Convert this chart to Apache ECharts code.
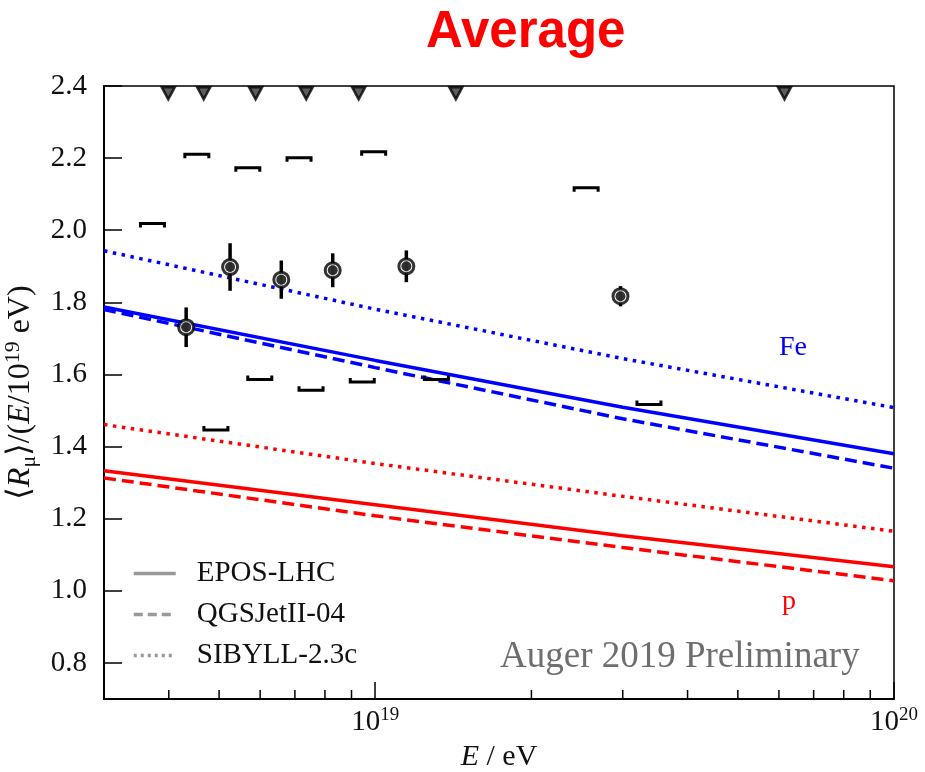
<!DOCTYPE html>
<html>
<head>
<meta charset="utf-8">
<title>Average</title>
<script src="https://cdn.jsdelivr.net/npm/echarts@6/dist/echarts.min.js"></script>
<style>
  html, body { margin: 0; padding: 0; background: #fff; }
  #chart { width: 925px; height: 772px; }
</style>
</head>
<body>
<div id="chart"></div>
<script>
// Energies (eV) at which the model predictions are sampled
const modelEnergies = [3e18, 1e19, 3e19, 1e20];

// Model predictions of <R_mu>/(E/1e19 eV)
const feEpos = [1.787, 1.639, 1.509, 1.380];
const feQgs  = [1.780, 1.619, 1.477, 1.340];
const feSib  = [1.943, 1.781, 1.644, 1.508];
const pEpos  = [1.333, 1.239, 1.153, 1.067];
const pQgs   = [1.313, 1.208, 1.120, 1.028];
const pSib   = [1.461, 1.353, 1.262, 1.165];

// Measured averages with statistical errors
const dataEnergies = [4.32e18, 5.25e18, 6.59e18, 8.28e18, 1.148e19, 2.97e19];
const dataValues   = [1.731, 1.898, 1.863, 1.889, 1.900, 1.817];
const dataErrors   = [0.055, 0.066, 0.053, 0.047, 0.044, 0.028];

// Systematic uncertainty brackets
const sysUpperEnergies = [3.72e18, 4.53e18, 5.68e18, 7.13e18, 9.93e18, 2.55e19];
const sysUpperValues   = [2.019, 2.211, 2.173, 2.201, 2.218, 2.118];
const sysLowerEnergies = [4.93e18, 5.99e18, 7.52e18, 9.44e18, 1.312e19, 3.37e19];
const sysLowerValues   = [1.446, 1.586, 1.556, 1.579, 1.586, 1.517];

// Bin markers along the top edge
const binMarkerEnergies = [3.99e18, 4.67e18, 5.88e18, 7.36e18, 9.29e18, 1.43e19, 6.15e19];
const binMarkerValue = 2.38;

// Axis ranges and ticks
const xMin = 3e18, xMax = 1e20;
const yMin = 0.7, yMax = 2.4;
const yTickValues = [0.8, 1.0, 1.2, 1.4, 1.6, 1.8, 2.0, 2.2, 2.4];
const xMinorTicks = [4e18, 5e18, 6e18, 7e18, 8e18, 9e18, 2e19, 3e19, 4e19, 5e19, 6e19, 7e19, 8e19, 9e19];

const legendNames = ['EPOS-LHC', 'QGSJetII-04', 'SIBYLL-2.3c'];

const SERIF = '"Liberation Serif", "DejaVu Serif", serif';
const BLUE = '#0000ff';
const RED = '#ff0000';
const DASH = [12, 6];
const DOT = [3.5, 5.5];
const LW = 3.5;

const zip = (xs, ys) => xs.map((x, i) => [x, ys[i]]);

function modelLine(name, values, color, type) {
  return {
    type: 'line',
    name: name,
    data: zip(modelEnergies, values),
    showSymbol: false,
    symbol: 'none',
    silent: true,
    lineStyle: { color: color, width: LW, type: type, cap: 'butt' },
    z: 2
  };
}

function bracketSeries(energies, values, dir) {
  return {
    type: 'custom',
    data: zip(energies, values),
    renderItem: function (params, api) {
      const p = api.coord([api.value(0), api.value(1)]);
      const hw = 12, h = 4 * dir;
      return {
        type: 'polyline',
        shape: { points: [[p[0] - hw, p[1] + h], [p[0] - hw, p[1]], [p[0] + hw, p[1]], [p[0] + hw, p[1] + h]] },
        style: { stroke: '#000', lineWidth: 3, fill: null }
      };
    },
    z: 5
  };
}

const chart = echarts.init(document.getElementById('chart'), null, { renderer: 'canvas' });

const option = {
  backgroundColor: '#ffffff',
  animation: false,
  title: {
    text: 'Average',
    left: 421,
    top: 2,
    textStyle: { fontFamily: '"Liberation Sans", Arial, sans-serif', fontWeight: 'bold', fontSize: 51, color: RED }
  },
  grid: {
    left: 104, right: 31, top: 86, bottom: 73,
    outerBoundsMode: 'none',
    containLabel: false,
    show: true, borderColor: '#000', borderWidth: 1.5, backgroundColor: 'transparent'
  },
  legend: {
    orient: 'vertical',
    left: 127,
    top: 554,
    itemWidth: 42,
    itemHeight: 16,
    itemGap: 12,
    data: legendNames,
    selectedMode: false,
    itemStyle: { opacity: 0 },
    lineStyle: { width: 3.5 },
    textStyle: { fontFamily: SERIF, fontSize: 29, color: '#111', padding: [0, 0, 0, 16] }
  },
  xAxis: {
    type: 'log',
    logBase: 10,
    min: xMin,
    max: xMax,
    name: '{i|E} / eV',
    nameLocation: 'middle',
    nameGap: 31,
    nameTextStyle: {
      fontFamily: SERIF, fontSize: 30, color: '#111', verticalAlign: 'top',
      rich: { i: { fontFamily: SERIF, fontStyle: 'italic', fontSize: 30, color: '#111' } }
    },
    axisLine: { lineStyle: { color: '#000', width: 2 } },
    axisTick: { inside: true, length: 17, lineStyle: { color: '#000', width: 1.5 } },
    axisLabel: {
      margin: 7,
      fontFamily: SERIF, fontSize: 29, color: '#111',
      formatter: function (v) {
        const l = Math.log10(v);
        if (Math.abs(l - Math.round(l)) < 1e-6) return '10{sup|' + Math.round(l) + '}';
        return '';
      },
      rich: {
        sup: { fontFamily: SERIF, fontSize: 19, color: '#111', verticalAlign: 'top', padding: [0, 0, 14, 0] }
      }
    },
    splitLine: { show: false },
    minorTick: { show: false }
  },
  yAxis: {
    type: 'value',
    min: yMin,
    max: yMax,
    name: '⟨{i|R}{sub|μ}⟩/({i|E}/10{sup|19} eV)',
    nameLocation: 'middle',
    nameRotate: 90,
    nameGap: 47,
    nameTextStyle: {
      fontFamily: SERIF, fontSize: 32, color: '#111',
      rich: {
        i: { fontFamily: SERIF, fontStyle: 'italic', fontSize: 32, color: '#111' },
        sub: { fontFamily: SERIF, fontSize: 22, color: '#111', padding: [16, 0, 0, 0] },
        sup: { fontFamily: SERIF, fontSize: 22, color: '#111', padding: [0, 0, 16, 0] }
      }
    },
    axisLine: { show: true, lineStyle: { color: '#000', width: 2 } },
    axisTick: { inside: true, length: 18, customValues: yTickValues, lineStyle: { color: '#000', width: 1.5 } },
    axisLabel: {
      margin: 17,
      customValues: yTickValues,
      fontFamily: SERIF, fontSize: 29, color: '#111',
      formatter: function (v) { return Number(v).toFixed(1); }
    },
    splitLine: { show: false }
  },
  graphic: [
    { type: 'text', left: 779, top: 334, style: { text: 'Fe', font: '28px ' + SERIF, fill: BLUE } },
    { type: 'text', left: 782, top: 588, style: { text: 'p', font: '28px ' + SERIF, fill: RED } },
    { type: 'text', left: 500, top: 639, style: { text: 'Auger 2019 Preliminary', font: '37px ' + SERIF, fill: '#6e6e6e' } }
  ],
  series: [
    // legend entries (style only)
    { type: 'line', name: legendNames[0], data: [], symbol: 'none', showSymbol: false, lineStyle: { color: '#999', width: 3.5, type: 'solid' }, itemStyle: { color: '#999' } },
    { type: 'line', name: legendNames[1], data: [], symbol: 'none', showSymbol: false, lineStyle: { color: '#999', width: 3.5, type: [9, 5] }, itemStyle: { color: '#999' } },
    { type: 'line', name: legendNames[2], data: [], symbol: 'none', showSymbol: false, lineStyle: { color: '#999', width: 3, type: [3, 4] }, itemStyle: { color: '#999' } },

    // model predictions
    modelLine('Fe EPOS-LHC', feEpos, BLUE, 'solid'),
    modelLine('Fe QGSJetII-04', feQgs, BLUE, DASH),
    modelLine('Fe SIBYLL-2.3c', feSib, BLUE, DOT),
    modelLine('p EPOS-LHC', pEpos, RED, 'solid'),
    modelLine('p QGSJetII-04', pQgs, RED, DASH),
    modelLine('p SIBYLL-2.3c', pSib, RED, DOT),

    // minor ticks on the energy axis
    {
      type: 'custom',
      data: xMinorTicks.map(v => [v, yMin]),
      silent: true,
      renderItem: function (params, api) {
        const p = api.coord([api.value(0), api.value(1)]);
        return { type: 'line', shape: { x1: p[0], y1: p[1], x2: p[0], y2: p[1] - 9 }, style: { stroke: '#000', lineWidth: 1.5 } };
      },
      z: 3
    },

    // systematic brackets
    bracketSeries(sysUpperEnergies, sysUpperValues, 1),
    bracketSeries(sysLowerEnergies, sysLowerValues, -1),

    // statistical error bars
    {
      type: 'custom',
      data: dataEnergies.map((e, i) => [e, dataValues[i], dataErrors[i]]),
      renderItem: function (params, api) {
        const x = api.value(0), y = api.value(1), err = api.value(2);
        const top = api.coord([x, y + err]);
        const bot = api.coord([x, y - err]);
        return { type: 'line', shape: { x1: top[0], y1: top[1], x2: bot[0], y2: bot[1] }, style: { stroke: '#000', lineWidth: 3.5 } };
      },
      z: 6
    },
    // data points: ring and filled centre
    {
      type: 'scatter',
      data: zip(dataEnergies, dataValues),
      symbol: 'circle',
      symbolSize: 15,
      itemStyle: { color: '#ffffff', borderColor: '#000', borderWidth: 3 },
      z: 7
    },
    {
      type: 'scatter',
      data: zip(dataEnergies, dataValues),
      symbol: 'circle',
      symbolSize: 10,
      itemStyle: { color: '#000' },
      z: 8
    },

    // bin markers at the top
    {
      type: 'scatter',
      data: binMarkerEnergies.map(e => [e, binMarkerValue]),
      symbol: 'triangle',
      symbolRotate: 180,
      symbolSize: [13, 12],
      clip: false,
      itemStyle: { color: '#333', borderColor: '#000', borderWidth: 2.5 },
      z: 7
    }
  ]
};

chart.setOption(option);
</script>
</body>
</html>
